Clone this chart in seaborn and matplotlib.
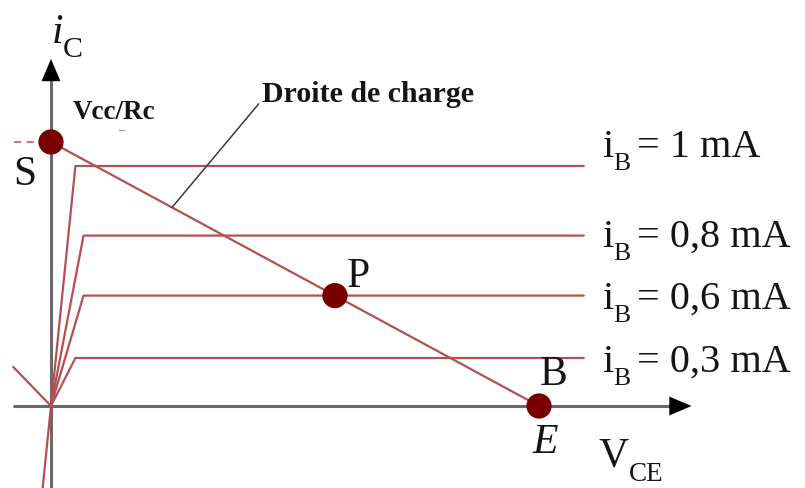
import numpy as np
import pandas as pd
import matplotlib
matplotlib.use("Agg")
import matplotlib.pyplot as plt
import seaborn as sns

# ---- data -------------------------------------------------------------
# Output characteristics i_C = f(V_CE) for several base currents
ib_labels = ["1 mA", "0,8 mA", "0,6 mA", "0,3 mA"]
ic_level = [100, 71, 46, 20]      # flat (active region) level of each curve
v_knee = [0.6, 0.8, 0.8, 0.6]     # V_CE at the knee of each curve
v_end = 13.1                      # right end of the curves

# Load line between S (0, Vcc/Rc) and E (Vcc, 0)
vcc = 12.0
ic_max = 110.0

# Branch drawn to the left of the origin
left_v = [0.0, -0.93]
left_i = [0.0, 16.3]

# ---- style ------------------------------------------------------------
sns.set_style("white")
plt.rcParams["font.family"] = ["Liberation Serif", "DejaVu Serif"]

RED = "#b45050"
DOT = "#7a0000"
AXIS = "#6a6a6a"
INK = "#151515"

fig = plt.figure(figsize=(8.05, 4.89), dpi=100)
ax = fig.add_axes([0, 0, 1, 1])
ax.set_xlim(-1.254, 18.54)
ax.set_ylim(-34.17, 169.58)
ax.axis("off")

# ---- axes with arrows -------------------------------------------------
x_tip, y_tip = 15.75, 144.6
ax.plot([-0.91, x_tip - 0.4], [0, 0], color=AXIS, lw=2.2, zorder=1)
ax.plot([0, 0], [-40, y_tip - 6], color=AXIS, lw=2.2, zorder=1)
head = dict(arrowstyle="-|>,head_length=0.8,head_width=0.34",
            color="black", lw=0, shrinkA=0, shrinkB=0, mutation_scale=20)
ax.annotate("", xy=(x_tip, 0), xytext=(x_tip - 0.6, 0), arrowprops=head)
ax.annotate("", xy=(0, y_tip), xytext=(0, y_tip - 9), arrowprops=head)

# ---- characteristic curves --------------------------------------------
rows = []
for k, (lab, lvl, vk) in enumerate(zip(ib_labels, ic_level, v_knee)):
    pts = [(0.0, 0.0), (vk, lvl), (v_end, lvl)]
    if k == 0:
        # the steepest branch continues below the origin
        pts.insert(0, (-40 * vk / lvl, -40.0))
    for o, (v, i) in enumerate(pts):
        rows.append({"curve": lab, "order": o, "V": v, "i": i})
for o, (v, i) in enumerate(zip(left_v, left_i)):
    rows.append({"curve": "left", "order": o, "V": v, "i": i})
curves = pd.DataFrame(rows)
sns.lineplot(data=curves, x="V", y="i", units="curve", estimator=None,
             sort=False, color=RED, lw=1.6, ax=ax, zorder=2)

# ---- load line ----------------------------------------------------------
load = pd.DataFrame({"V": [0.0, vcc], "i": [ic_max, 0.0]})
sns.lineplot(data=load, x="V", y="i", color=RED, lw=1.6, ax=ax, zorder=2)
ax.plot([-0.9, -0.1], [ic_max, ic_max], color="#c47a7a", lw=1.5,
        dashes=(3.5, 2.5), zorder=2)

# operating points S, P, E
v_p = vcc * (1 - ic_level[2] / ic_max)
pts = pd.DataFrame({"V": [0.0, v_p, vcc], "i": [ic_max, ic_level[2], 0.0]})
sns.scatterplot(data=pts, x="V", y="i", s=330, color=DOT, edgecolor="none",
                ax=ax, zorder=5)

# ---- labels -------------------------------------------------------------
def put(txt, xy, off, size, **kw):
    kw.setdefault("color", INK)
    ax.annotate(txt, xy=xy, xytext=off, textcoords="offset points",
                fontsize=size, ha="left", va="baseline", **kw)

for lab, lvl, dy in zip(ib_labels, ic_level, [7.2, -7.2, -8.6, -9.4]):
    put("i", (v_end, lvl), (13.5, dy), 29)
    put("B", (v_end, lvl), (21.0, dy - 9.4), 18.5)
    put("= " + lab, (v_end, lvl), (38.5, dy), 29)

put("S", (0, ic_max), (-27.4, -30.2), 30)
put("Vcc/Rc", (0, ic_max), (15.8, 17.3), 19.5, fontweight="bold")
put("\u2013", (0, ic_max), (48.5, 7.0), 9, color="#555555")
put("P", (v_p, ic_level[2]), (8.6, 7.2), 30)
put("B", (vcc, 0), (0.7, 15.8), 30)
put("E", (vcc, 0), (-5.0, -33.0), 30, style="italic")

put("V", (x_tip, 0), (-67.0, -43.0), 30)
put("CE", (x_tip, 0), (-45.0, -53.0), 19.5)
put("i", (0, y_tip), (0.5, 12.0), 30, style="italic")
put("C", (0, y_tip), (8.5, 2.2), 21.5)

v_lead = 2.975
ax.annotate("Droite de charge", xy=(v_lead, ic_max * (1 - v_lead / vcc)),
            xytext=(64.8, 76.3), textcoords="offset points",
            fontsize=21.5, fontweight="bold", ha="left", va="baseline",
            color=INK,
            arrowprops=dict(arrowstyle="-", color="#3a3a3a", lw=1.1,
                            shrinkA=0, shrinkB=0, relpos=(0, 0.28)))

fig.savefig("out.png", dpi=100, facecolor="white")
